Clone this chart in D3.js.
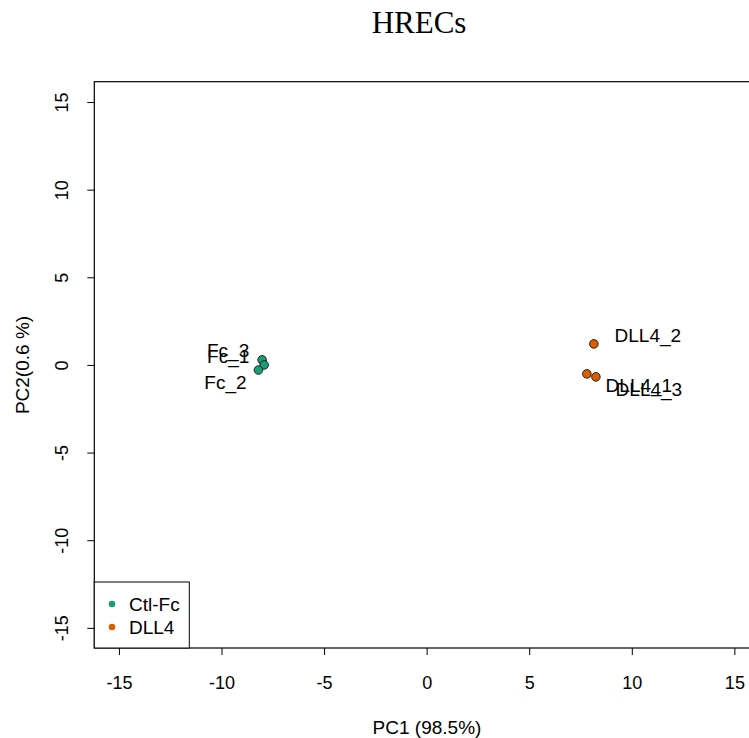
<!DOCTYPE html>
<html>
<head>
<meta charset="utf-8">
<script src="https://cdn.jsdelivr.net/npm/d3@7"></script>
<style>
  html, body { margin: 0; padding: 0; background: #fff; }
  svg { display: block; }
  text { font-family: "Liberation Sans", Arial, sans-serif; fill: #000; }
</style>
</head>
<body>
<svg id="chart" width="749" height="738"></svg>
<script>
// PCA scores for the HREC samples
const samples = ["Fc_3", "Fc_1", "Fc_2", "DLL4_2", "DLL4_1", "DLL4_3"];
const groups  = ["Ctl-Fc", "Ctl-Fc", "Ctl-Fc", "DLL4", "DLL4", "DLL4"];
const pc1     = [-8.02, -7.92, -8.2, 8.15, 7.81, 8.25];
const pc2     = [0.29, 0.0, -0.29, 1.2, -0.51, -0.68];
// label placement offsets (px) relative to each point
const labelDx = [-34, -36, -33, 54, 52, 53];
const labelDy = [-10, -9, 12, -9, 11, 12];

const legendGroups = ["Ctl-Fc", "DLL4"];
const groupColors  = ["#1B9E77", "#D95F02"];
const tickValues   = [-15, -10, -5, 0, 5, 10, 15];

const plot = { left: 94.3, top: 81.7, right: 759, bottom: 648 };
const fmt = d => String(d);   // plain hyphen-minus, as in base R

const svg = d3.select("#chart");

const x = d3.scaleLinear().domain([-16.2, 16.2]).range([plot.left, plot.right]);
const y = d3.scaleLinear().domain([-16.15, 16.16]).range([plot.bottom, plot.top]);
const color = d3.scaleOrdinal().domain(legendGroups).range(groupColors);

// title
svg.append("text")
  .attr("x", 419).attr("y", 33)
  .attr("text-anchor", "middle")
  .style("font-family", "'Liberation Serif', 'Times New Roman', serif")
  .style("font-size", "31px")
  .text("HRECs");

// axes
const xAxis = svg.append("g")
  .attr("transform", `translate(0,${plot.bottom})`)
  .call(d3.axisBottom(x).tickValues(tickValues).tickSize(7).tickPadding(21).tickFormat(fmt));
const yAxis = svg.append("g")
  .attr("transform", `translate(${plot.left},0)`)
  .call(d3.axisLeft(y).tickValues(tickValues).tickSize(7).tickFormat(fmt));

[xAxis, yAxis].forEach(g => {
  g.select(".domain").remove();
  g.selectAll("line").attr("stroke", "#000");
  g.selectAll("text").style("font-size", "18px").style("font-family", "'Liberation Sans', Arial, sans-serif");
});
xAxis.selectAll("text").attr("dy", "0.71em");
// y tick labels rotated, parallel to the axis
yAxis.selectAll(".tick text")
  .attr("x", 0).attr("y", 0).attr("dy", "0.35em")
  .attr("text-anchor", "middle")
  .attr("transform", "translate(-33,0) rotate(-90)");

// plot frame
svg.append("rect")
  .attr("x", plot.left).attr("y", plot.top)
  .attr("width", plot.right - plot.left).attr("height", plot.bottom - plot.top)
  .attr("fill", "none").attr("stroke", "#000").attr("stroke-width", 1.2);

// axis titles
svg.append("text")
  .attr("x", 427).attr("y", 727).attr("dy", "0.35em")
  .attr("text-anchor", "middle")
  .style("font-size", "19px")
  .text("PC1 (98.5%)");
svg.append("text")
  .attr("transform", `translate(22,365) rotate(-90)`)
  .attr("dy", "0.35em")
  .attr("text-anchor", "middle")
  .style("font-size", "19px")
  .text("PC2(0.6 %)");

// points
const idx = d3.range(samples.length);
svg.append("g").selectAll("circle")
  .data(idx).join("circle")
  .attr("cx", i => x(pc1[i]))
  .attr("cy", i => y(pc2[i]))
  .attr("r", 4.3)
  .attr("fill", i => color(groups[i]))
  .attr("stroke", "#000").attr("stroke-width", 0.8);

// sample labels
svg.append("g").selectAll("text")
  .data(idx).join("text")
  .attr("x", i => x(pc1[i]) + labelDx[i])
  .attr("y", i => y(pc2[i]) + labelDy[i])
  .attr("dy", "0.35em")
  .attr("text-anchor", "middle")
  .style("font-size", "19px")
  .text(i => samples[i]);

// legend
const leg = svg.append("g");
leg.append("rect")
  .attr("x", plot.left).attr("y", 582)
  .attr("width", 95).attr("height", plot.bottom - 582)
  .attr("fill", "#fff").attr("stroke", "#000").attr("stroke-width", 1);
legendGroups.forEach((g, i) => {
  const cy = 604 + i * 23;
  leg.append("circle").attr("cx", 112).attr("cy", cy).attr("r", 3.3).attr("fill", groupColors[i]);
  leg.append("text").attr("x", 129).attr("y", cy).attr("dy", "0.35em")
    .style("font-size", "19px").text(g);
});
</script>
</body>
</html>
